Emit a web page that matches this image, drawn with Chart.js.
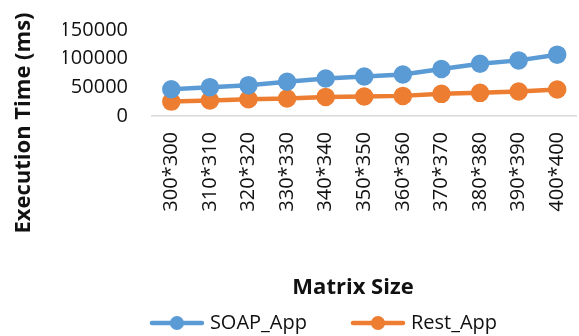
<!DOCTYPE html>
<html>
<head>
<meta charset="utf-8">
<script src="https://cdn.jsdelivr.net/npm/chart.js@4"></script>
<style>
  html, body { margin: 0; padding: 0; background: #fff; overflow: hidden; }
  #wrap { width: 579px; height: 336px; overflow: hidden; position: relative; }
  canvas { display: block; }
</style>
</head>
<body>
<div id="wrap"><canvas id="chart" width="588" height="343"></canvas></div>
<script>
// Execution time (ms) per matrix size
const categories = ['300*300', '310*310', '320*320', '330*330', '340*340', '350*350',
                    '360*360', '370*370', '380*380', '390*390', '400*400'];
const soapApp = [46800, 50300, 53800, 59600, 65500, 69000, 72500, 81900, 91200, 97000, 107000];
const restApp = [25100, 26900, 29300, 30400, 33300, 33900, 35100, 38600, 40400, 42600, 46100];
const yTicks = [0, 50000, 100000, 150000];

const SOAP_COLOR = '#5B9BD5';
const REST_COLOR = '#ED7D31';
const TEXT_COLOR = '#111';
const FONT = '"Open Sans", "DejaVu Sans", sans-serif';

// Legend swatch: a short line with a round marker on it
function legendMarker(color) {
  const c = document.createElement('canvas');
  c.width = 56; c.height = 16;
  const g = c.getContext('2d');
  g.strokeStyle = color; g.lineWidth = 4.5; g.lineCap = 'round';
  g.beginPath(); g.moveTo(3, 8); g.lineTo(53, 8); g.stroke();
  g.fillStyle = color;
  g.beginPath(); g.arc(28, 8, 7, 0, Math.PI * 2); g.fill();
  return c;
}
const markers = [legendMarker(SOAP_COLOR), legendMarker(REST_COLOR)];

// Axis titles drawn beside the plot
const axisTitles = {
  id: 'axisTitles',
  afterDraw(chart) {
    const { ctx } = chart;
    ctx.save();
    ctx.fillStyle = TEXT_COLOR;
    ctx.textAlign = 'center';
    ctx.textBaseline = 'middle';
    ctx.font = 'bold 22px ' + FONT;
    ctx.save();
    ctx.translate(24, 123);
    ctx.rotate(-Math.PI / 2);
    ctx.fillText('Execution Time (ms)', 0, 0);
    ctx.restore();
    ctx.font = 'bold 22px ' + FONT;
    ctx.fillText('Matrix Size', 353, 288);
    ctx.restore();
  }
};

Chart.defaults.font.family = FONT;
Chart.defaults.font.size = 20;
Chart.defaults.color = TEXT_COLOR;

new Chart(document.getElementById('chart'), {
  type: 'line',
  data: {
    labels: categories,
    datasets: [
      {
        label: 'SOAP_App', data: soapApp,
        borderColor: SOAP_COLOR, backgroundColor: SOAP_COLOR,
        borderWidth: 4.5, pointRadius: 7, pointHoverRadius: 7,
        pointBackgroundColor: SOAP_COLOR, pointBorderColor: SOAP_COLOR,
        tension: 0
      },
      {
        label: 'Rest_App', data: restApp,
        borderColor: REST_COLOR, backgroundColor: REST_COLOR,
        borderWidth: 4.5, pointRadius: 7, pointHoverRadius: 7,
        pointBackgroundColor: REST_COLOR, pointBorderColor: REST_COLOR,
        tension: 0
      }
    ]
  },
  options: {
    responsive: false,
    animation: false,
    devicePixelRatio: 1,
    layout: { padding: { left: 63, top: 30, right: 0, bottom: 0 } },
    scales: {
      x: {
        offset: true,
        grid: { display: false, drawTicks: false },
        border: { display: true, color: '#D9D9D9', width: 1.5 },
        ticks: { autoSkip: false, minRotation: 90, maxRotation: 90, padding: 16, color: TEXT_COLOR },
        afterFit(s) { s.height = 149; s.paddingLeft = 0; s.paddingRight = 0; }
      },
      y: {
        min: 0, max: 150000,
        grid: { display: false, drawTicks: false },
        border: { display: false },
        ticks: {
          autoSkip: false, padding: 24, color: TEXT_COLOR,
          callback: v => String(v)
        },
        afterBuildTicks(s) { s.ticks = yTicks.map(v => ({ value: v })); },
        afterFit(s) { s.width = 89; s.paddingTop = 0; s.paddingBottom = 0; }
      }
    },
    plugins: {
      tooltip: { enabled: false },
      legend: {
        position: 'bottom',
        labels: {
          usePointStyle: true,
          pointStyleWidth: 46,
          padding: 48,
          color: TEXT_COLOR,
          font: { size: 20 },
          generateLabels(chart) {
            const items = Chart.defaults.plugins.legend.labels.generateLabels(chart);
            items.forEach((it, i) => { it.pointStyle = markers[i]; });
            return items;
          }
        }
      }
    }
  },
  plugins: [axisTitles]
});
</script>
</body>
</html>
